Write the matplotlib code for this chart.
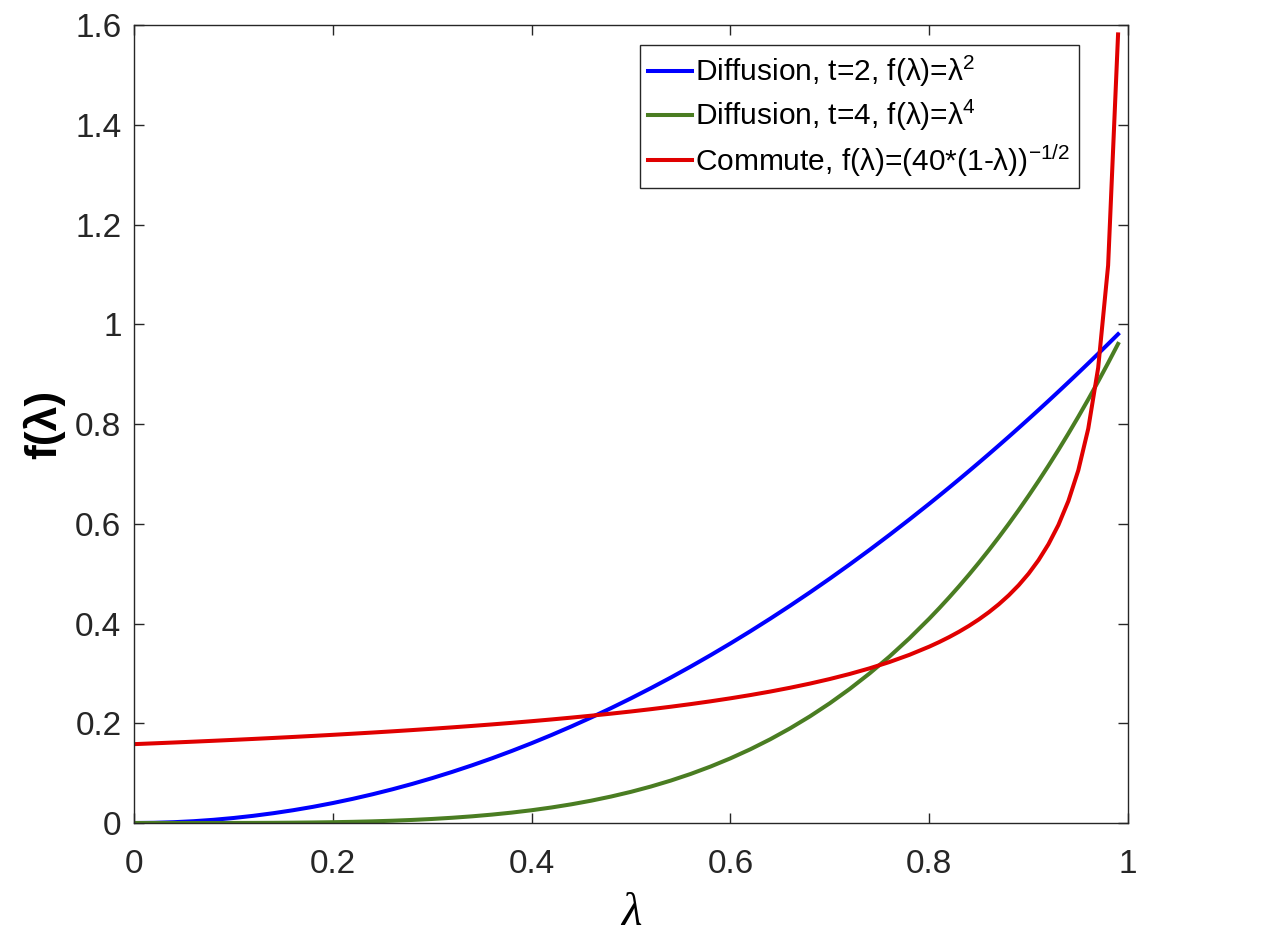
import matplotlib
matplotlib.use("Agg")
import matplotlib.pyplot as plt
from matplotlib.ticker import FixedLocator, FuncFormatter

# ---- data ----
lam = [0.00, 0.02, 0.04, 0.06, 0.08, 0.10, 0.12, 0.14, 0.16, 0.18,
       0.20, 0.22, 0.24, 0.26, 0.28, 0.30, 0.32, 0.34, 0.36, 0.38,
       0.40, 0.42, 0.44, 0.46, 0.48, 0.50, 0.52, 0.54, 0.56, 0.58,
       0.60, 0.62, 0.64, 0.66, 0.68, 0.70, 0.72, 0.74, 0.76, 0.78,
       0.80, 0.81, 0.82, 0.83, 0.84, 0.85, 0.86, 0.87, 0.88, 0.89,
       0.90, 0.91, 0.92, 0.93, 0.94, 0.95, 0.96, 0.97, 0.98, 0.99]

diff_t2 = [0.0000, 0.0004, 0.0016, 0.0036, 0.0064, 0.0100, 0.0144, 0.0196, 0.0256, 0.0324,
           0.0400, 0.0484, 0.0576, 0.0676, 0.0784, 0.0900, 0.1024, 0.1156, 0.1296, 0.1444,
           0.1600, 0.1764, 0.1936, 0.2116, 0.2304, 0.2500, 0.2704, 0.2916, 0.3136, 0.3364,
           0.3600, 0.3844, 0.4096, 0.4356, 0.4624, 0.4900, 0.5184, 0.5476, 0.5776, 0.6084,
           0.6400, 0.6561, 0.6724, 0.6889, 0.7056, 0.7225, 0.7396, 0.7569, 0.7744, 0.7921,
           0.8100, 0.8281, 0.8464, 0.8649, 0.8836, 0.9025, 0.9216, 0.9409, 0.9604, 0.9801]

diff_t4 = [0.00000, 0.00000, 0.00000, 0.00001, 0.00004, 0.00010, 0.00021, 0.00038, 0.00066, 0.00105,
           0.00160, 0.00234, 0.00332, 0.00457, 0.00615, 0.00810, 0.01049, 0.01336, 0.01680, 0.02085,
           0.02560, 0.03112, 0.03748, 0.04477, 0.05308, 0.06250, 0.07312, 0.08503, 0.09834, 0.11316,
           0.12960, 0.14776, 0.16777, 0.18975, 0.21381, 0.24010, 0.26874, 0.29987, 0.33362, 0.37015,
           0.40960, 0.43047, 0.45212, 0.47458, 0.49787, 0.52201, 0.54701, 0.57290, 0.59969, 0.62742,
           0.65610, 0.68575, 0.71639, 0.74805, 0.78075, 0.81451, 0.84935, 0.88529, 0.92237, 0.96060]

commute = [0.15811, 0.15972, 0.16137, 0.16308, 0.16485, 0.16667, 0.16855, 0.17050, 0.17252, 0.17461,
           0.17678, 0.17903, 0.18137, 0.18380, 0.18634, 0.18898, 0.19174, 0.19462, 0.19764, 0.20080,
           0.20412, 0.20761, 0.21129, 0.21517, 0.21926, 0.22361, 0.22822, 0.23313, 0.23837, 0.24398,
           0.25000, 0.25649, 0.26352, 0.27116, 0.27951, 0.28868, 0.29881, 0.31009, 0.32275, 0.33710,
           0.35355, 0.36274, 0.37268, 0.38348, 0.39528, 0.40825, 0.42258, 0.43853, 0.45644, 0.47673,
           0.50000, 0.52705, 0.55902, 0.59761, 0.64550, 0.70711, 0.79057, 0.91287, 1.11803, 1.58114]

labels = ["Diffusion, t=2, f(λ)=λ$^{2}$",
          "Diffusion, t=4, f(λ)=λ$^{4}$",
          "Commute, f(λ)=(40*(1-λ))$^{\\mathrm{-1/2}}$"]

xticks = [0, 0.2, 0.4, 0.6, 0.8, 1.0]
yticks = [0, 0.2, 0.4, 0.6, 0.8, 1.0, 1.2, 1.4, 1.6]

# ---- style ----
plt.rcParams['font.family'] = ['Liberation Sans', 'DejaVu Sans']
plt.rcParams['mathtext.fontset'] = 'custom'
plt.rcParams['mathtext.rm'] = 'Liberation Sans'
plt.rcParams['mathtext.it'] = 'Liberation Serif:italic'
plt.rcParams['mathtext.bf'] = 'Liberation Sans:bold'
plt.rcParams['mathtext.default'] = 'rm'

axcol = '#262626'
fig = plt.figure(figsize=(12.66, 9.47), dpi=100)
ax = fig.add_axes([134/1266, 1-823/947, (1128-134)/1266, (823-25)/947])

ax.plot(lam, diff_t2, color='#0000ff', lw=2.9, label=labels[0])
ax.plot(lam, diff_t4, color='#4a7d22', lw=2.9, label=labels[1])
ax.plot(lam, commute, color='#e00000', lw=2.9, label=labels[2])

ax.set_xlim(0, 1)
ax.set_ylim(0, 1.6)
ax.xaxis.set_major_locator(FixedLocator(xticks))
ax.yaxis.set_major_locator(FixedLocator(yticks))
fmt = FuncFormatter(lambda v, p: f"{v:g}")
ax.xaxis.set_major_formatter(fmt)
ax.yaxis.set_major_formatter(fmt)
ax.tick_params(axis='both', direction='in', length=7.5, width=1, colors=axcol,
               labelsize=24, top=True, right=True)
ax.tick_params(axis='x', pad=19)
ax.tick_params(axis='y', pad=9)
for s in ax.spines.values():
    s.set_color(axcol)
    s.set_linewidth(1)

ax.set_xlabel("$\\mathit{\\lambda}$", fontsize=34, color='black')
ax.xaxis.set_label_coords(0.5, -0.085)
ax.set_ylabel("f(λ)", fontsize=32, color='black', fontweight='bold')
ax.yaxis.set_label_coords(-0.069, 0.5)

leg = ax.legend(loc='upper right', bbox_to_anchor=(1079/1266, 1-45/947),
                bbox_transform=fig.transFigure, fontsize=21.5, frameon=True,
                fancybox=False, edgecolor=axcol, framealpha=1,
                handlelength=1.45, handletextpad=0.1, borderpad=0.3,
                labelspacing=0.3, borderaxespad=0)
leg.get_frame().set_linewidth(1)

fig.savefig("out.png", dpi=100, facecolor='white')
